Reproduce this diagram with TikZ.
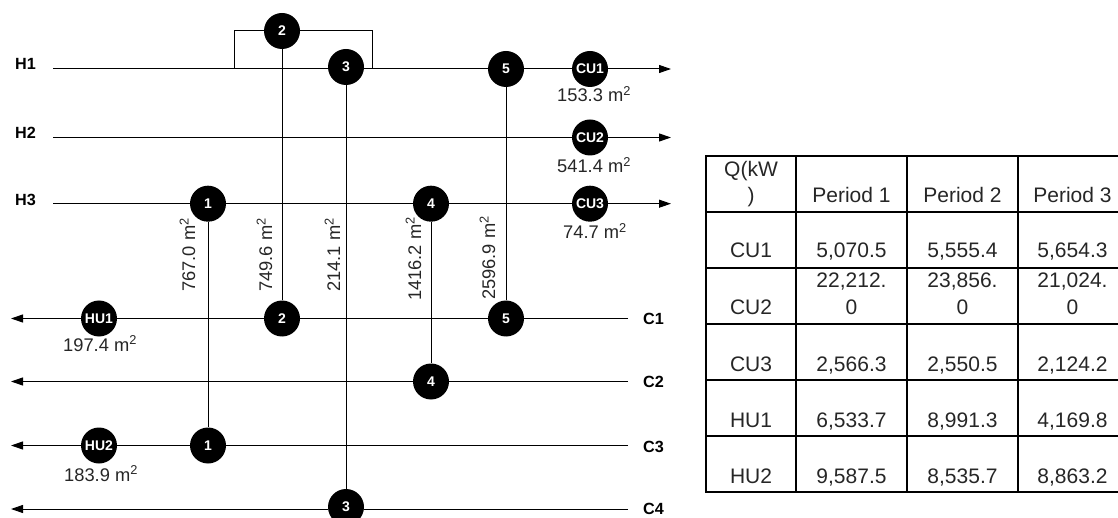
\documentclass[tikz,border=0pt]{standalone}
\usepackage{fontspec}
\setmainfont{Liberation Sans}
\usetikzlibrary{arrows.meta}
\newcommand{\areaval}[1]{#1 m\textsuperscript{2}}
\tikzset{
  x=1pt,y=-1pt,
  hx/.style={circle,fill=black,minimum size=36pt,inner sep=0pt,text=white,font=\fontsize{14}{14}\selectfont\bfseries},
  stream/.style={line width=1pt,draw=black},
  flow/.style={stream,-{Triangle[length=12pt,width=8pt]}},
  streamlabel/.style={font=\fontsize{16.2}{16.2}\selectfont\bfseries,anchor=base west,inner sep=0pt},
  area/.style={font=\fontsize{18.3}{18.3}\selectfont,anchor=base west,inner sep=0pt,text=black!85},
  varea/.style={area,rotate=90},
  cell/.style={font=\fontsize{21}{21}\selectfont,anchor=base,inner sep=0pt,text=black!85},
  grid/.style={line width=1.5pt,draw=black}
}
\begin{document}
\begin{tikzpicture}
\clip (0,0) rectangle (1118,518);
% heat exchangers
\node[hx] (e2t) at (282,31) {2};
\node[hx] (e3t) at (346,67) {3};
\node[hx] (e5t) at (506,69) {5};
\node[hx] (cu1) at (590,69) {CU1};
\node[hx] (cu2) at (590,137.5) {CU2};
\node[hx] (e1t) at (208,203.7) {1};
\node[hx] (e4t) at (431,203.7) {4};
\node[hx] (cu3) at (590,203.7) {CU3};
\node[hx] (hu1) at (99,318.5) {HU1};
\node[hx] (e2b) at (282,318.5) {2};
\node[hx] (e5b) at (506,318.5) {5};
\node[hx] (e4b) at (431,381.5) {4};
\node[hx] (hu2) at (99,445.5) {HU2};
\node[hx] (e1b) at (208,445.5) {1};
\node[hx] (e3b) at (346,507) {3};
% stream ends
\coordinate (h1s) at (53,69);
\coordinate (h1e) at (671,69);
\coordinate (h2s) at (53,137.5);
\coordinate (h2e) at (671,137.5);
\coordinate (h3s) at (53,203.7);
\coordinate (h3e) at (671,203.7);
\coordinate (c1s) at (628,318.5);
\coordinate (c1e) at (11,318.5);
\coordinate (c2s) at (628,381.5);
\coordinate (c2e) at (11,381.5);
\coordinate (c3s) at (628,445.5);
\coordinate (c3e) at (11,445.5);
\coordinate (c4s) at (628,509);
\coordinate (c4e) at (11,509);
\coordinate (by1) at (234,69);
\coordinate (by2) at (372,69);
% hot streams
\draw[stream] (h1s) -- (e3t.west |- h1s);
\draw[stream] (e3t.east |- h1s) -- (e5t);
\draw[stream] (e5t) -- (cu1);
\draw[flow] (cu1) -- (h1e);
\draw[stream] (h2s) -- (cu2);
\draw[flow] (cu2) -- (h2e);
\draw[stream] (h3s) -- (e1t);
\draw[stream] (e1t) -- (e4t);
\draw[stream] (e4t) -- (cu3);
\draw[flow] (cu3) -- (h3e);
% bypass
\draw[stream] (by1) |- (e2t);
\draw[stream] (by2) |- (e2t);
% cold streams
\draw[stream] (c1s) -- (e5b);
\draw[stream] (e5b) -- (e2b);
\draw[stream] (e2b) -- (hu1);
\draw[flow] (hu1) -- (c1e);
\draw[stream] (c2s) -- (e4b);
\draw[flow] (e4b) -- (c2e);
\draw[stream] (c3s) -- (e1b);
\draw[stream] (e1b) -- (hu2);
\draw[flow] (hu2) -- (c3e);
\draw[stream] (c4s) -- (e3b.east |- c4s);
\draw[flow] (e3b.west |- c4s) -- (c4e);
% exchanger matches
\draw[stream] (e1t) -- (e1b);
\draw[stream] (e2t) -- (e2b);
\draw[stream] (e3t) -- (e3b);
\draw[stream] (e4t) -- (e4b);
\draw[stream] (e5t) -- (e5b);
% stream labels
\node[streamlabel] (lh1) at (15,70) {H1};
\node[streamlabel] (lh2) at (15,139) {H2};
\node[streamlabel] (lh3) at (15,206) {H3};
\node[streamlabel] (lc1) at (643,324) {C1};
\node[streamlabel] (lc2) at (643,387) {C2};
\node[streamlabel] (lc3) at (643,452) {C3};
\node[streamlabel] (lc4) at (643,514) {C4};
% areas
\node[area] (a1) at (557,102) {\areaval{153.3}};
\node[area] (a2) at (557,173) {\areaval{541.4}};
\node[area] (a3) at (563,239) {\areaval{74.7}};
\node[area] (a4) at (63,351) {\areaval{197.4}};
\node[area] (a5) at (64,481) {\areaval{183.9}};
\node[varea] (a6) at (195,292) {\areaval{767.0}};
\node[varea] (a7) at (272,292) {\areaval{749.6}};
\node[varea] (a8) at (340,292) {\areaval{214.1}};
\node[varea] (a9) at (421,301) {\areaval{1416.2}};
\node[varea] (a10) at (495,300) {\areaval{2596.9}};
% table
\foreach \yy in {156,212,268,324,380,436,492} \draw[grid] (705.25,\yy) -- (1118,\yy);
\foreach \xx in {706,796,907,1018} \draw[grid] (\xx,156) -- (\xx,492);
\node[cell] (t00a) at (751,177) {Q(kW};
\node[cell] (t00b) at (751,203) {)};
\node[cell] (t01) at (851.5,203) {Period 1};
\node[cell] (t02) at (962.5,203) {Period 2};
\node[cell] (t03) at (1072.5,203) {Period 3};
\node[cell] (t10) at (751,258) {CU1};
\node[cell] (t11) at (851.5,258) {5,070.5};
\node[cell] (t12) at (962.5,258) {5,555.4};
\node[cell] (t13) at (1072.5,258) {5,654.3};
\node[cell] (t20) at (751,315) {CU2};
\node[cell] (t21a) at (851.5,288) {22,212.};
\node[cell] (t21b) at (851.5,315) {0};
\node[cell] (t22a) at (962.5,288) {23,856.};
\node[cell] (t22b) at (962.5,315) {0};
\node[cell] (t23a) at (1072.5,288) {21,024.};
\node[cell] (t23b) at (1072.5,315) {0};
\node[cell] (t30) at (751,371) {CU3};
\node[cell] (t31) at (851.5,371) {2,566.3};
\node[cell] (t32) at (962.5,371) {2,550.5};
\node[cell] (t33) at (1072.5,371) {2,124.2};
\node[cell] (t40) at (751,427) {HU1};
\node[cell] (t41) at (851.5,427) {6,533.7};
\node[cell] (t42) at (962.5,427) {8,991.3};
\node[cell] (t43) at (1072.5,427) {4,169.8};
\node[cell] (t50) at (751,483) {HU2};
\node[cell] (t51) at (851.5,483) {9,587.5};
\node[cell] (t52) at (962.5,483) {8,535.7};
\node[cell] (t53) at (1072.5,483) {8,863.2};
\end{tikzpicture}
\end{document}
